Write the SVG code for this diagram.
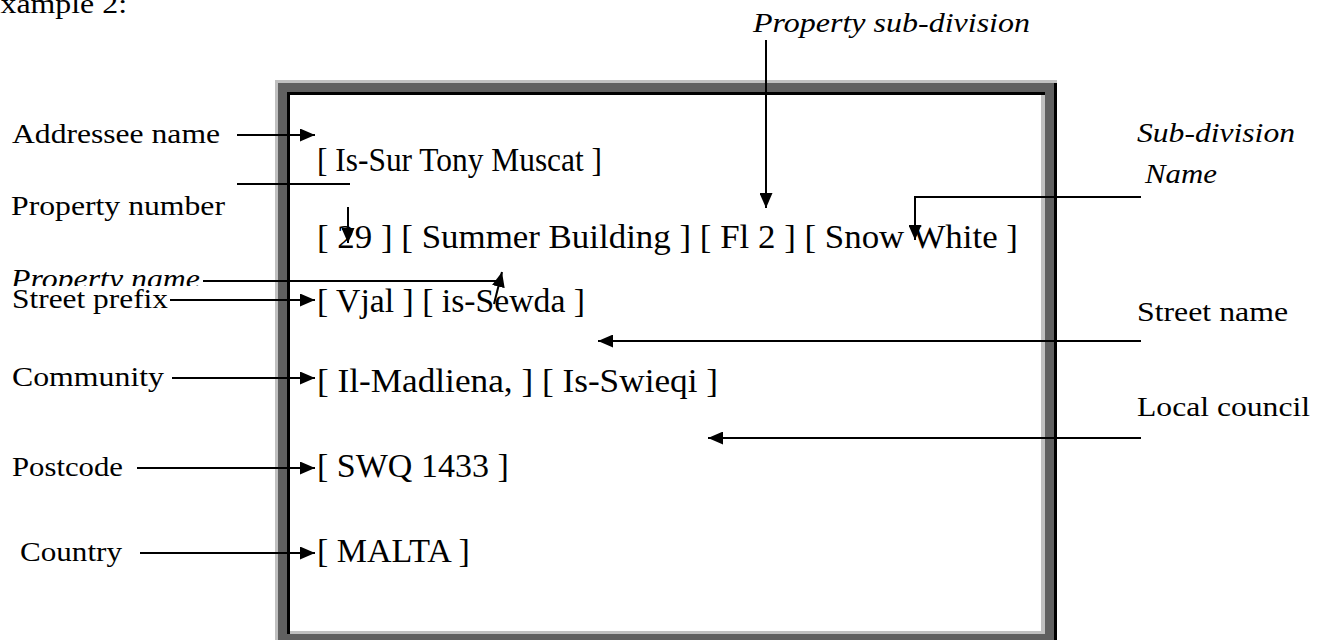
<svg xmlns="http://www.w3.org/2000/svg" width="1319" height="640" viewBox="0 0 1319 640">
<style>
.lbl{font-family:"Liberation Serif","Times New Roman",serif;font-size:28px;fill:#000}
.it{font-style:italic}
.addr{font-family:"Liberation Serif","Times New Roman",serif;font-size:34px;fill:#000}
.cn{stroke:#000;stroke-width:2;fill:none}
</style>
<defs>
<marker id="ah" markerUnits="userSpaceOnUse" markerWidth="16" markerHeight="13" refX="15" refY="6.5" orient="auto">
<path d="M0,0 L15,6.5 L0,13 z" fill="#000"/>
</marker>
<clipPath id="pnclip"><rect x="0" y="250" width="260" height="36"/></clipPath>
</defs>
<rect width="1319" height="640" fill="#fff"/>
<text class="lbl" x="-19" y="13" textLength="146" lengthAdjust="spacingAndGlyphs">Example 2:</text>
<g id="frame">
<rect x="275" y="80" width="782" height="570" fill="#c0c0c0"/>
<rect x="278" y="83" width="776" height="567" fill="#606060"/>
<rect x="1054" y="83" width="3" height="567" fill="#000"/>
<rect x="287" y="92" width="758" height="542" fill="#000"/>
<rect x="290" y="95" width="755" height="539" fill="#c0c0c0"/>
<rect x="290" y="95" width="751" height="536" fill="#fff"/>
</g>
<g id="address">
<text class="addr" x="317" y="171" textLength="285" lengthAdjust="spacingAndGlyphs">[ Is-Sur Tony Muscat ]</text>
<text class="addr" x="317" y="248" textLength="701" lengthAdjust="spacingAndGlyphs">[ 29 ] [ Summer Building ] [ Fl 2 ] [ Snow White ]</text>
<text class="addr" x="317" y="312" textLength="268" lengthAdjust="spacingAndGlyphs">[ Vjal ] [ is-Sewda ]</text>
<text class="addr" x="317" y="392" textLength="401" lengthAdjust="spacingAndGlyphs">[ Il-Madliena, ] [ Is-Swieqi ]</text>
<text class="addr" x="317" y="477">[ SWQ 1433 ]</text>
<text class="addr" x="317" y="562">[ MALTA ]</text>
</g>
<g id="label-addressee"><text class="lbl" x="12" y="143" textLength="208" lengthAdjust="spacingAndGlyphs">Addressee name</text></g>
<g id="label-propnum"><text class="lbl" x="11" y="215" textLength="214" lengthAdjust="spacingAndGlyphs">Property number</text></g>
<g id="label-propname" clip-path="url(#pnclip)"><text class="lbl it" x="11" y="288" textLength="189" lengthAdjust="spacingAndGlyphs">Property name</text></g>
<g id="label-streetprefix"><text class="lbl" x="12" y="308" textLength="156" lengthAdjust="spacingAndGlyphs">Street prefix</text></g>
<g id="label-community"><text class="lbl" x="12" y="386" textLength="152" lengthAdjust="spacingAndGlyphs">Community</text></g>
<g id="label-postcode"><text class="lbl" x="12" y="476" textLength="111" lengthAdjust="spacingAndGlyphs">Postcode</text></g>
<g id="label-country"><text class="lbl" x="20" y="561" textLength="102" lengthAdjust="spacingAndGlyphs">Country</text></g>
<g id="label-streetname"><text class="lbl" x="1137" y="321" textLength="151" lengthAdjust="spacingAndGlyphs">Street name</text></g>
<g id="label-localcouncil"><text class="lbl" x="1137" y="416" textLength="173" lengthAdjust="spacingAndGlyphs">Local council</text></g>
<g id="label-subdivname"><text class="lbl it" x="1137" y="142" textLength="158" lengthAdjust="spacingAndGlyphs">Sub-division</text><text class="lbl it" x="1145" y="183" textLength="72" lengthAdjust="spacingAndGlyphs">Name</text></g>
<g id="label-propsubdiv"><text class="lbl it" x="753" y="32" textLength="277" lengthAdjust="spacingAndGlyphs">Property sub-division</text></g>
<g id="connectors">
<path class="cn" d="M237,135 H315" marker-end="url(#ah)"/>
<path class="cn" d="M237,184 H350"/>
<path class="cn" d="M348,207 V243" marker-end="url(#ah)"/>
<path class="cn" d="M203,281 H497"/>
<path class="cn" d="M494,304 L502,272" marker-end="url(#ah)"/>
<path class="cn" d="M170,300 H315" marker-end="url(#ah)"/>
<path class="cn" d="M172,378 H315" marker-end="url(#ah)"/>
<path class="cn" d="M137,468 H315" marker-end="url(#ah)"/>
<path class="cn" d="M140,553 H315" marker-end="url(#ah)"/>
<path class="cn" d="M1141,341 H598" marker-end="url(#ah)"/>
<path class="cn" d="M1141,438 H708" marker-end="url(#ah)"/>
<path class="cn" d="M766,40 V208" marker-end="url(#ah)"/>
<path class="cn" d="M1141,197 H915 V240" marker-end="url(#ah)"/>
</g>
</svg>
